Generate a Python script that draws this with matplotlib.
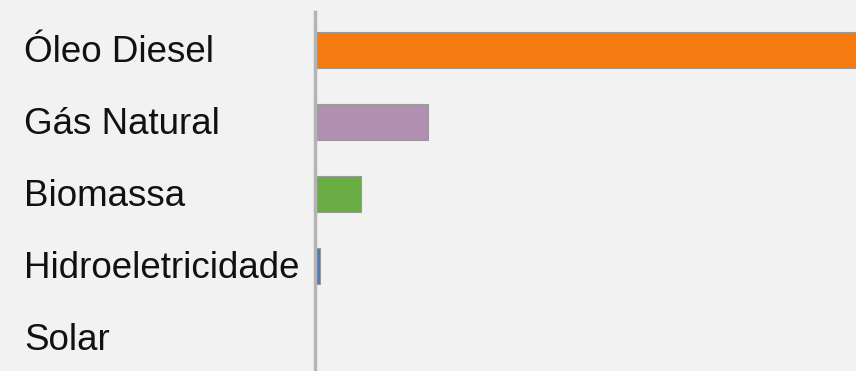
import matplotlib
matplotlib.use("Agg")
import matplotlib.pyplot as plt
from matplotlib.transforms import blended_transform_factory

categories = ["Óleo Diesel", "Gás Natural", "Biomassa", "Hidroeletricidade", "Solar"]
values = [76.7, 16.0, 6.5, 0.7, 0.0]
colors = ["#F57B10", "#B08FB0", "#6AAD45", "#5078B8", "#999999"]

W, H = 856, 371
fig = plt.figure(figsize=(W / 100, H / 100), dpi=100)
fig.patch.set_facecolor("#F2F2F2")

left = 315 / W
top = 1 - 12 / H
ax = fig.add_axes([left, 0, 1 - left, top])
ax.set_facecolor("#F2F2F2")

y = list(range(len(categories)))
ax.barh(y, values, height=0.5, color=colors, edgecolor="#9a9a9a", linewidth=0.8, zorder=2)

ax.set_xlim(0, values[0])
ax.set_ylim(4 + (371 - 338) / 72, -38 / 72)

for s in ["top", "right", "bottom"]:
    ax.spines[s].set_visible(False)
ax.spines["left"].set_color("#B4B4B4")
ax.spines["left"].set_linewidth(2.5)
ax.spines["left"].set_zorder(3)

ax.set_xticks([])
ax.set_yticks(y)
ax.set_yticklabels([])
ax.tick_params(axis="y", length=0)

trans = blended_transform_factory(fig.transFigure, ax.transData)
for yi, lab in zip(y, categories):
    ax.text(24 / W, yi + 0.03, lab, transform=trans,
            ha="left", va="center", fontsize=26.5,
            family=["Liberation Sans", "DejaVu Sans"], color="#111111")

fig.savefig("out.png", dpi=100, facecolor=fig.get_facecolor())
